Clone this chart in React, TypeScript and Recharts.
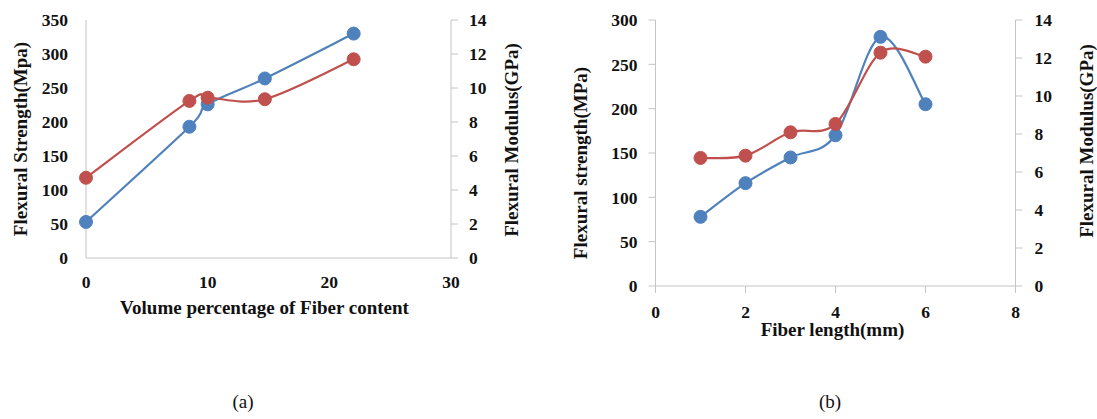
import React from 'react';
import { LineChart, Line, XAxis, YAxis, Label } from 'recharts';

// (a) fiber volume fraction
const volumePct = [0, 8.5, 10, 14.7, 22];
const strengthA = [53, 193, 226, 264, 330];
const modulusA = [4.72, 9.24, 9.43, 9.34, 11.69];

// (b) fiber length
const fiberLength = [1, 2, 3, 4, 5, 6];
const strengthB = [78, 116, 145, 170, 281, 205];
const modulusB = [6.74, 6.86, 8.09, 8.53, 12.28, 12.07];

const ticksA_x = [0, 10, 20, 30];
const ticksA_left = [0, 50, 100, 150, 200, 250, 300, 350];
const ticksB_x = [0, 2, 4, 6, 8];
const ticksB_left = [0, 50, 100, 150, 200, 250, 300];
const ticksRight = [0, 2, 4, 6, 8, 10, 12, 14];

const dataA = volumePct.map((x, i) => ({ x, strength: strengthA[i], modulus: modulusA[i] }));
const dataB = fiberLength.map((x, i) => ({ x, strength: strengthB[i], modulus: modulusB[i] }));

const BLUE = '#4f81bd';
const RED = '#c0504d';
const AXIS = '#c4c4c4';
const FONT = 'Liberation Serif';

const tickStyle = { fill: '#111', fontSize: 17.5, fontWeight: 700, fontFamily: FONT };
const titleStyle = { fill: '#111', fontSize: 19, fontWeight: 700, fontFamily: FONT };

// Excel-like smoothed line (Catmull-Rom through the points)
const smoothCurve = (context: any) => {
    let pts: number[][] = [];
    return {
        areaStart() {},
        areaEnd() {},
        lineStart() { pts = []; },
        point(x: number, y: number) { pts.push([+x, +y]); },
        lineEnd() {
            if (!pts.length) return;
            context.moveTo(pts[0][0], pts[0][1]);
            const t = 1 / 6;
            for (let i = 0; i < pts.length - 1; i++) {
                const p0 = pts[i - 1] || pts[i];
                const p1 = pts[i];
                const p2 = pts[i + 1];
                const p3 = pts[i + 2] || p2;
                context.bezierCurveTo(
                    p1[0] + (p2[0] - p0[0]) * t, p1[1] + (p2[1] - p0[1]) * t,
                    p2[0] - (p3[0] - p1[0]) * t, p2[1] - (p3[1] - p1[1]) * t,
                    p2[0], p2[1]
                );
            }
        },
    };
};

const series = (key: string, axis: string, color: string) => (
    <Line
        yAxisId={axis}
        dataKey={key}
        type={smoothCurve as any}
        stroke={color}
        strokeWidth={2.2}
        dot={{ r: 6.5, fill: color, stroke: color, strokeWidth: 1 }}
        activeDot={false}
        isAnimationActive={false}
    />
);

const ChartA = () => (
    <LineChart width={560} height={340} data={dataA} margin={{ top: 20, right: 0, bottom: 0, left: 0 }}>
        <XAxis
            dataKey="x" type="number" domain={[0, 30]} ticks={ticksA_x}
            stroke={AXIS} tickLine={false} tickSize={0} tickMargin={18} height={82}
            tick={tickStyle}
        >
            <Label value="Volume percentage of Fiber content" position="center" dx={-4} dy={8} style={titleStyle} />
        </XAxis>
        <YAxis
            yAxisId="s" domain={[0, 350]} ticks={ticksA_left} width={86}
            stroke={AXIS} tickLine={false} tickSize={0} tickMargin={18} tick={tickStyle}
        >
            <Label value="Flexural Strength(Mpa)" angle={-90} position="center" dx={-23} dy={0} style={titleStyle} />
        </YAxis>
        <YAxis
            yAxisId="m" orientation="right" domain={[0, 14]} ticks={ticksRight} width={109}
            stroke={AXIS} tickSize={7} tickMargin={11} tick={tickStyle}
        >
            <Label value="Flexural Modulus(GPa)" angle={-90} position="center" dx={6} dy={1} style={titleStyle} />
        </YAxis>
        {series('strength', 's', BLUE)}
        {series('modulus', 'm', RED)}
    </LineChart>
);

const ChartB = () => (
    <LineChart width={537} height={350} data={dataB} margin={{ top: 20, right: 0, bottom: 0, left: 0 }}>
        <XAxis
            dataKey="x" type="number" domain={[0, 8]} ticks={ticksB_x}
            stroke={AXIS} tickSize={7} tickMargin={13} height={64}
            tick={tickStyle}
        >
            <Label value="Fiber length(mm)" position="center" dx={-3} dy={11} style={titleStyle} />
        </XAxis>
        <YAxis
            yAxisId="s" domain={[0, 300]} ticks={ticksB_left} width={95.5}
            stroke={AXIS} tickSize={7} tickMargin={11} tick={tickStyle}
        >
            <Label value="Flexural strength(MPa)" angle={-90} position="center" dx={-27} dy={10} style={titleStyle} />
        </YAxis>
        <YAxis
            yAxisId="m" orientation="right" domain={[0, 14]} ticks={ticksRight} width={81.5}
            stroke={AXIS} tickSize={7} tickMargin={12} tick={tickStyle}
        >
            <Label value="Flexural Modulus(GPa)" angle={-90} position="center" dx={30} dy={-12} style={titleStyle} />
        </YAxis>
        {series('strength', 's', BLUE)}
        {series('modulus', 'm', RED)}
    </LineChart>
);

const captionStyle: React.CSSProperties = {
    position: 'absolute',
    top: 391,
    fontFamily: FONT,
    fontSize: 19,
    color: '#111',
    transform: 'translateX(-50%)',
};

export default function App() {
    return (
        <div style={{ position: 'absolute', left: 0, top: 0, width: 1097, height: 419, background: '#fff', overflow: 'hidden', fontFamily: FONT }}>
            <div style={{ position: 'absolute', left: 0, top: 0 }}>
                <ChartA />
            </div>
            <div style={{ position: 'absolute', left: 560, top: 0 }}>
                <ChartB />
            </div>
            <div style={{ ...captionStyle, left: 243 }}>(a)</div>
            <div style={{ ...captionStyle, left: 830 }}>(b)</div>
        </div>
    );
}
